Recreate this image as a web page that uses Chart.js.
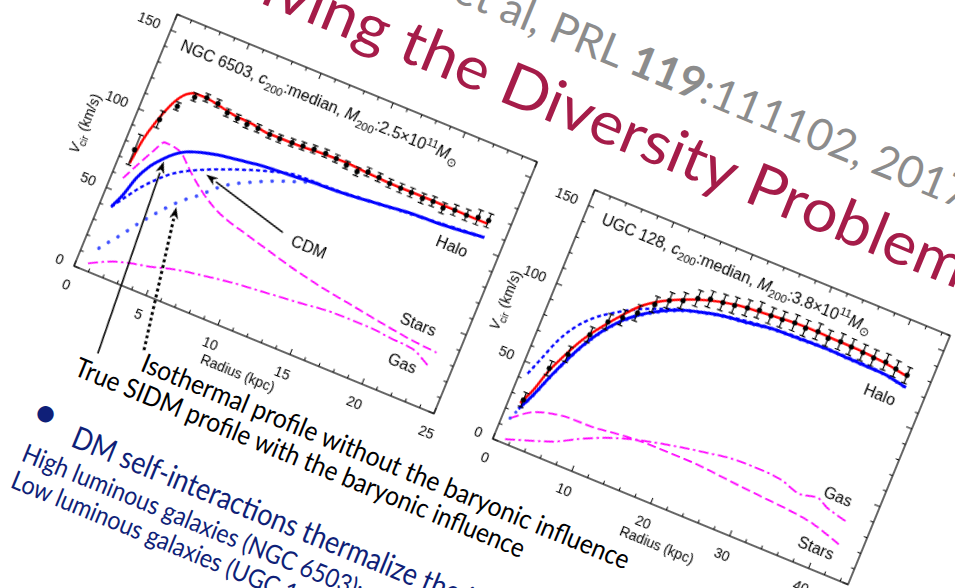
<!DOCTYPE html>
<html>
<head>
<meta charset="utf-8">
<title>SIDM rotation curves</title>
<script src="https://cdn.jsdelivr.net/npm/chart.js@4.4.1/dist/chart.umd.min.js"></script>
<style>
  html, body { margin: 0; padding: 0; background: #fff; }
  body { width: 955px; height: 588px; overflow: hidden; position: relative; }
  /* the whole slide is tilted; local origin (150,450) = NGC 6503 plot origin */
  #slide {
    position: absolute; left: -75.7px; top: -184px;
    width: 1400px; height: 800px;
    transform-origin: 150px 450px;
    transform: rotate(22.3deg);
  }
  #slide svg { position: absolute; left: 0; top: 0; }
  #slide canvas { position: absolute; }
  #c1 { left: 80px; top: 163px; }
  #c2 { left: 533px; top: 167px; }
</style>
</head>
<body>
<div id="slide">
  <svg width="1400" height="800">
    <g transform="translate(150,450)" font-family="Lato, 'Open Sans', sans-serif">
      <text x="81" y="-389" font-size="44" fill="#8c8c8c">Kamada et al, PRL <tspan font-weight="bold">119</tspan>:111102, 2017</text>
      <text x="0" y="-314" font-size="60" fill="#a51c49" textLength="826" lengthAdjust="spacingAndGlyphs">Solving the Diversity Problem</text>
      <text x="100" y="72" font-size="27" fill="#000" textLength="525" lengthAdjust="spacingAndGlyphs">Isothermal profile without the baryonic influence</text>
      <text x="40" y="101" font-size="27" fill="#000" textLength="484" lengthAdjust="spacingAndGlyphs">True SIDM profile with the baryonic influence</text>
      <text x="17" y="161" font-size="44" fill="#0f1f78">•</text>
      <text x="64" y="168" font-size="31" fill="#0f1f78" textLength="540" lengthAdjust="spacingAndGlyphs">DM self-interactions thermalize the inner halo</text>
      <text x="24" y="200" font-size="26" fill="#0f1f78" textLength="473" lengthAdjust="spacingAndGlyphs">High luminous galaxies (NGC 6503): small core</text>
      <text x="24" y="229" font-size="26" fill="#0f1f78" textLength="451" lengthAdjust="spacingAndGlyphs">Low luminous galaxies (UGC 128): large core</text>
    </g>
  </svg>
  <canvas id="c1" width="479" height="372"></canvas>
  <canvas id="c2" width="474" height="369"></canvas>
</div>

<script>
// ---------- NGC 6503 ----------
const ngcRadius = [0.77, 1.52, 2.25, 3.06, 3.80, 4.60, 5.38, 6.12, 6.83, 7.59, 8.43, 9.13, 9.96, 10.69, 11.43, 12.22,
                   12.98, 13.74, 14.53, 15.19, 15.98, 16.76, 17.53, 18.27, 19.07, 19.78, 20.53, 21.28, 22.10, 22.85, 23.55];
const ngcVobs   = [76.8, 98.8, 110.0, 118.8, 121.2, 120.6, 117.6, 116.8, 115.7, 116.0, 115.3, 115.2, 115.8, 116.4, 117.1, 117.5,
                   117.0, 115.8, 114.6, 116.8, 116.3, 115.4, 115.3, 115.3, 114.6, 115.3, 113.9, 115.4, 115.3, 116.7, 117.3];
const ngcVerr   = [9.5, 5.2, 2.4, 2.4, 2.4, 2.4, 2.4, 2.4, 2.4, 2.4, 2.4, 2.4, 2.4, 2.4, 2.4, 2.4,
                   2.4, 2.4, 2.6, 2.6, 2.6, 2.6, 2.8, 2.8, 3.0, 3.0, 3.2, 3.2, 3.4, 4.5, 4.2];

const ngcTotalR = [0.8, 1.02, 1.37, 1.79, 2.3, 3.08, 3.77, 4.76, 5.75, 7.19, 8.19, 9.34, 10.5, 11.85, 13.68, 15.11, 17.46, 19.76, 23.0, 23.6];
const ngcTotalV = [68.4, 84.1, 97.1, 108.3, 116.6, 121.0, 121.1, 119.5, 118.0, 117.0, 115.5, 115.6, 115.7, 116.6, 117.1, 116.2, 115.5, 115.6, 115.3, 115.4];

const ngcHaloR = [0.77, 1.18, 1.56, 2.07, 2.68, 3.35, 3.9, 4.7, 5.75, 6.83, 8.14, 9.48, 10.83, 12.4, 13.77, 15.34, 16.9, 18.66, 20.8, 23.7];
const ngcHaloV = [40.7, 49.7, 61.8, 71.1, 78.1, 84.0, 87.2, 89.9, 92.4, 94.0, 95.8, 97.0, 97.8, 98.9, 99.4, 100.6, 102.1, 103.8, 104.6, 107.0];

const ngcCdmR = [0.77, 1.42, 2.0, 2.79, 3.63, 4.56, 5.52, 7.1, 9.13, 11.2, 13.0, 15.3, 17.5, 20.0, 23.7];
const ngcCdmV = [40.4, 49.5, 57.1, 65.4, 72.4, 77.7, 82.0, 88.0, 94.6, 99.2, 99.5, 100.8, 102.6, 104.4, 107.2];

const ngcIsoR = [1.05, 1.6, 2.1, 2.58, 3.08, 3.53, 4.04, 4.55, 5.08, 5.66, 6.6, 7.27, 8.5, 9.76, 11.18, 12.5, 13.8, 15.3, 17.5, 20.0, 23.7];
const ngcIsoV = [15.3, 22.2, 28.1, 34.8, 40.9, 46.3, 52.0, 57.2, 61.7, 66.0, 74.4, 79.1, 85.2, 90.6, 95.5, 99.3, 99.6, 100.7, 102.5, 104.4, 106.9];

const ngcStarsR = [0.77, 1.39, 1.9, 2.38, 2.96, 3.62, 4.17, 4.89, 5.89, 6.81, 7.93, 8.97, 11.3, 13.1, 15.1, 17.58, 20.05, 22.0, 23.67];
const ngcStarsV = [58.8, 70.7, 80.0, 87.5, 87.2, 85.5, 81.2, 75.4, 68.6, 63.5, 59.3, 56.8, 51.5, 47.5, 43.9, 40.5, 37.1, 34.9, 33.8];

const ngcGasR = [0.77, 2.02, 3.25, 4.52, 6.18, 8.13, 9.87, 12.1, 14.33, 16.55, 18.86, 20.77, 22.2, 23.5];
const ngcGasV = [4.6, 10.4, 14.0, 16.6, 20.8, 23.9, 26.3, 28.3, 30.3, 32.4, 32.6, 31.3, 30.3, 24.6];

// ---------- UGC 128 ----------
const ugcRadius = [1.6, 3.0, 4.4, 5.9, 7.3, 8.7, 10.1, 11.6, 13.0, 14.5, 16.0, 17.4, 18.9, 20.3, 21.8,
                   23.2, 24.7, 26.1, 27.6, 29.0, 30.5, 31.9, 33.4, 34.8, 36.3, 37.7, 39.2, 40.6, 42.1];
const ugcVobs   = [28.4, 51.6, 63.5, 79.2, 90.4, 96.0, 101.9, 110.5, 116.0, 119.0, 123.5, 126.0, 127.0, 128.0, 129.5,
                   131.0, 130.5, 131.0, 132.0, 131.5, 132.5, 131.0, 132.0, 131.5, 131.0, 130.5, 131.0, 129.5, 128.5];
const ugcVerr   = [4.5, 4.5, 4.8, 4.8, 4.8, 4.8, 5.0, 5.0, 5.0, 5.0, 5.0, 5.0, 5.0, 5.0, 5.0,
                   5.0, 5.0, 5.0, 5.0, 5.0, 5.0, 5.0, 5.0, 5.0, 5.0, 5.0, 5.0, 5.0, 5.0];

const ugcTotalR = [1.38, 2.24, 2.95, 4.02, 5.17, 6.46, 8.11, 10.13, 12.08, 14.53, 17.11, 20.18, 23.0, 26.3, 29.2, 32.6, 35.6, 38.6, 42.2];
const ugcTotalV = [25.9, 36.2, 48.4, 61.4, 73.4, 83.6, 94.6, 106.3, 113.5, 119.8, 124.7, 128.4, 130.0, 131.5, 132.2, 131.8, 131.6, 130.5, 127.9];

const ugcHaloR = [1.46, 2.46, 3.47, 4.54, 5.67, 6.95, 8.63, 10.5, 12.5, 14.65, 16.9, 19.6, 22.4, 25.6, 29.0, 32.3, 35.7, 39.1, 42.5];
const ugcHaloV = [22.2, 33.5, 47.3, 60.3, 72.3, 82.9, 93.5, 101.7, 108.1, 113.2, 116.6, 119.7, 121.4, 123.7, 124.3, 124.9, 124.4, 124.1, 121.5];

const ugcCdmR = [0.88, 1.64, 2.64, 3.85, 5.58, 7.52, 9.55, 11.7, 13.5, 16.0, 19.6, 25.6, 32.3, 39.1, 42.5];
const ugcCdmV = [43.7, 54.2, 68.1, 79.2, 89.3, 96.6, 103.0, 107.9, 111.5, 115.5, 119.9, 123.9, 125.1, 124.3, 121.7];

const ugcIsoR = [0.96, 1.46, 2.46, 3.47, 4.54, 5.67, 6.95, 8.63, 10.5, 12.5, 14.65, 16.9, 19.6, 22.4, 25.6, 29.0, 32.3, 35.7, 39.1, 42.5];
const ugcIsoV = [15.3, 21.5, 32.8, 46.5, 59.5, 71.5, 82.2, 92.8, 101.0, 107.5, 112.7, 116.2, 119.3, 121.0, 123.3, 124.0, 124.6, 124.1, 123.8, 121.2];

const ugcStarsR = [0.96, 2.88, 5.88, 7.9, 10.0, 12.8, 15.3, 17.8, 20.3, 22.85, 25.9, 28.95, 32.4, 35.5, 38.6, 42.5];
const ugcStarsV = [15.3, 22.9, 27.8, 28.8, 28.9, 30.5, 31.7, 32.2, 32.2, 32.1, 31.0, 29.8, 28.6, 27.5, 25.4, 19.5];

const ugcGasR = [1.35, 3.76, 7.07, 9.48, 12.3, 15.3, 18.0, 21.1, 23.9, 27.0, 30.4, 33.0, 35.8, 37.8, 39.3, 41.9];
const ugcGasV = [2.6, 6.8, 13.0, 19.7, 26.2, 31.4, 34.8, 38.1, 40.7, 43.1, 43.5, 42.6, 38.9, 40.9, 37.6, 34.4];

// ---------- helpers ----------
const FONT = '"Liberation Sans", Arial, sans-serif';
Chart.defaults.font.family = FONT;
Chart.defaults.color = '#000';

const pts = (xs, ys) => xs.map((x, i) => ({ x, y: ys[i] }));

function curve(label, xs, ys, color, width, dash, order, extra) {
  return Object.assign({
    label, data: pts(xs, ys), showLine: true,
    borderColor: color, backgroundColor: color, borderWidth: width, borderDash: dash,
    pointRadius: 0, cubicInterpolationMode: 'monotone', order
  }, extra || {});
}

function observed(xs, ys) {
  return { label: 'data', data: pts(xs, ys), showLine: false, pointRadius: 2.6,
           pointBackgroundColor: '#000', pointBorderWidth: 0, order: 0 };
}

// text with italic / sub / superscript pieces, left aligned on baseline
function richWidth(ctx, parts, size) {
  let w = 0;
  for (const p of parts) {
    const s = (p.sub || p.sup) ? size * 0.72 : size;
    ctx.font = (p.it ? 'italic ' : '') + s + 'px ' + FONT;
    w += ctx.measureText(p.t).width;
  }
  return w;
}
function drawRich(ctx, parts, x, y, size) {
  let cx = x;
  for (const p of parts) {
    const s = (p.sub || p.sup) ? size * 0.72 : size;
    ctx.font = (p.it ? 'italic ' : '') + s + 'px ' + FONT;
    const dy = p.sub ? size * 0.28 : p.sup ? -size * 0.42 : 0;
    ctx.fillText(p.t, cx, y + dy);
    cx += ctx.measureText(p.t).width;
  }
}

function arrow(ctx, x0, y0, x1, y1, dotted) {
  const ang = Math.atan2(y1 - y0, x1 - x0);
  const len = 12, half = 4.5;
  const bx = x1 - len * Math.cos(ang), by = y1 - len * Math.sin(ang);
  ctx.save();
  ctx.strokeStyle = '#000'; ctx.fillStyle = '#000';
  ctx.lineWidth = dotted ? 3 : 1.6;
  ctx.setLineDash(dotted ? [3, 3] : []);
  ctx.beginPath(); ctx.moveTo(x0, y0); ctx.lineTo(bx, by); ctx.stroke();
  ctx.setLineDash([]);
  ctx.beginPath();
  ctx.moveTo(x1, y1);
  ctx.lineTo(bx + half * Math.sin(ang), by - half * Math.cos(ang));
  ctx.lineTo(x1 - 0.7 * len * Math.cos(ang), y1 - 0.7 * len * Math.sin(ang));
  ctx.lineTo(bx - half * Math.sin(ang), by + half * Math.cos(ang));
  ctx.closePath(); ctx.fill();
  ctx.restore();
}

const vTitle = [{ t: 'V', it: true }, { t: 'cir', sub: true }, { t: ' (km/s)' }];

// frame with inward ticks on all sides, error bars, labels, arrows
function decor(spec) {
  return {
    id: 'decor',
    afterDatasetsDraw(chart) {
      const { ctx, chartArea: a, scales: { x, y } } = chart;
      ctx.save();

      ctx.strokeStyle = '#000';
      ctx.lineWidth = 1.2;
      ctx.beginPath();
      spec.obsR.forEach((r, i) => {
        const px = x.getPixelForValue(r);
        const lo = y.getPixelForValue(spec.obsV[i] - spec.obsE[i]);
        const hi = y.getPixelForValue(spec.obsV[i] + spec.obsE[i]);
        ctx.moveTo(px, lo); ctx.lineTo(px, hi);
        ctx.moveTo(px - 3, lo); ctx.lineTo(px + 3, lo);
        ctx.moveTo(px - 3, hi); ctx.lineTo(px + 3, hi);
      });
      ctx.stroke();

      ctx.lineWidth = 1.2;
      ctx.strokeRect(a.left, a.top, a.right - a.left, a.bottom - a.top);
      ctx.lineWidth = 1;
      ctx.beginPath();
      for (let v = 0; v <= spec.xMax + 1e-6; v += spec.xMinor) {
        const px = x.getPixelForValue(v);
        const l = Math.abs(v / spec.xStep - Math.round(v / spec.xStep)) < 1e-6 ? 6 : 3.5;
        ctx.moveTo(px, a.bottom); ctx.lineTo(px, a.bottom - l);
        ctx.moveTo(px, a.top); ctx.lineTo(px, a.top + l);
      }
      for (let v = 0; v <= 160 + 1e-6; v += 10) {
        const py = y.getPixelForValue(v);
        const l = v % 50 === 0 ? 6 : 3.5;
        ctx.moveTo(a.left, py); ctx.lineTo(a.left + l, py);
        ctx.moveTo(a.right, py); ctx.lineTo(a.right - l, py);
      }
      ctx.stroke();

      ctx.fillStyle = '#000';
      ctx.textAlign = 'center';
      ctx.textBaseline = 'middle';
      ctx.font = '16px ' + FONT;
      spec.notes.forEach(n => ctx.fillText(n.text, x.getPixelForValue(n.x), y.getPixelForValue(n.y)));

      ctx.textAlign = 'left';
      ctx.textBaseline = 'alphabetic';
      drawRich(ctx, spec.heading, x.getPixelForValue(spec.headAt[0]), y.getPixelForValue(spec.headAt[1]), 16);

      // axis titles
      const xt = [{ t: 'Radius ' }, { t: '(kpc)' }];
      drawRich(ctx, xt, a.left + spec.xTitle[0] - richWidth(ctx, xt, 14) / 2, a.bottom + spec.xTitle[1] + 5, 14);
      ctx.save();
      ctx.translate(a.left - spec.yTitle[0], a.bottom - spec.yTitle[1]);
      ctx.rotate(-Math.PI / 2);
      drawRich(ctx, vTitle, -richWidth(ctx, vTitle, 14) / 2, 5, 14);
      ctx.restore();

      (spec.arrows || []).forEach(ar => arrow(ctx,
        x.getPixelForValue(ar.from[0]), y.getPixelForValue(ar.from[1]),
        x.getPixelForValue(ar.to[0]), y.getPixelForValue(ar.to[1]), ar.dotted));

      ctx.restore();
    }
  };
}

function makeChart(id, spec, datasets) {
  return new Chart(document.getElementById(id), {
    type: 'scatter',
    data: { datasets },
    options: {
      responsive: false,
      maintainAspectRatio: false,
      animation: false,
      events: [],
      layout: { padding: { left: 30, top: 15, right: 20, bottom: 50 } },
      plugins: { legend: { display: false }, tooltip: { enabled: false } },
      scales: {
        x: {
          type: 'linear', min: 0, max: spec.xMax,
          afterFit: s => { s.height = 35; },
          grid: { display: false }, border: { display: false },
          ticks: { stepSize: spec.xStep, includeBounds: false, padding: 5, maxRotation: 0,
                   autoSkip: false, color: '#000', font: { size: 14 } }
        },
        y: {
          type: 'linear', min: 0, max: 160,
          afterFit: s => { s.width = 40; },
          grid: { display: false }, border: { display: false },
          ticks: { stepSize: 50, includeBounds: false, padding: 4, color: '#000', font: { size: 14 } }
        }
      }
    },
    plugins: [decor(spec)]
  });
}

const BLUE = '#0000ff', DOTS = '#3c4dff', RED = '#ff0000', MAG = '#ff00ff';

makeChart('c1', {
  xMax: 25, xStep: 5, xMinor: 1,
  obsR: ngcRadius, obsV: ngcVobs, obsE: ngcVerr,
  heading: [{ t: 'NGC 6503, ' }, { t: 'c', it: true }, { t: '200', sub: true }, { t: ':median, ' },
            { t: 'M', it: true }, { t: '200', sub: true }, { t: ':2.5×10' }, { t: '11', sup: true },
            { t: 'M', it: true }, { t: '⊙', sub: true }],
  headAt: [1.0, 141],
  notes: [{ text: 'Halo', x: 22.0, y: 94.4 }, { text: 'CDM', x: 13.5, y: 62.2 },
          { text: 'Stars', x: 21.9, y: 44.2 }, { text: 'Gas', x: 21.9, y: 19.6 }],
  xTitle: [192, 37], yTitle: [44, 136],
  arrows: [{ from: [3.55, -42.3], to: [2.79, 76.9] },
           { from: [6.21, -30.1], to: [4.65, 54.9], dotted: true },
           { from: [11.6, 64.8], to: [5.64, 79.3] }]
}, [
  observed(ngcRadius, ngcVobs),
  curve('total', ngcTotalR, ngcTotalV, RED, 2.5, [], 1),
  curve('SIDM halo', ngcHaloR, ngcHaloV, BLUE, 3, [], 2),
  curve('CDM', ngcCdmR, ngcCdmV, BLUE, 2.4, [4, 3], 3),
  curve('isothermal', ngcIsoR, ngcIsoV, DOTS, 3.6, [0.1, 11], 4, { borderCapStyle: 'round' }),
  curve('stars', ngcStarsR, ngcStarsV, MAG, 1.8, [9, 4], 5),
  curve('gas', ngcGasR, ngcGasV, MAG, 1.8, [10, 3.5, 2.5, 3.5], 6)
]);

makeChart('c2', {
  xMax: 45, xStep: 10, xMinor: 2,
  obsR: ugcRadius, obsV: ugcVobs, obsE: ugcVerr,
  heading: [{ t: 'UGC 128, ' }, { t: 'c', it: true }, { t: '200', sub: true }, { t: ':median, ' },
            { t: 'M', it: true }, { t: '200', sub: true }, { t: ':3.8×10' }, { t: '11', sup: true },
            { t: 'M', it: true }, { t: '⊙', sub: true }],
  headAt: [2.1, 143],
  notes: [{ text: 'Halo', x: 40, y: 110.8 }, { text: 'Gas', x: 40, y: 45.4 }, { text: 'Stars', x: 39.9, y: 12 }],
  xTitle: [192, 36], yTitle: [41, 133]
}, [
  observed(ugcRadius, ugcVobs),
  curve('total', ugcTotalR, ugcTotalV, RED, 2.5, [], 1),
  curve('SIDM halo', ugcHaloR, ugcHaloV, BLUE, 3, [], 2),
  curve('CDM', ugcCdmR, ugcCdmV, BLUE, 2.4, [4, 3], 3),
  curve('isothermal', ugcIsoR, ugcIsoV, DOTS, 3.2, [0.1, 8], 4, { borderCapStyle: 'round' }),
  curve('stars', ugcStarsR, ugcStarsV, MAG, 1.8, [9, 4], 5),
  curve('gas', ugcGasR, ugcGasV, MAG, 1.8, [10, 3.5, 2.5, 3.5], 6)
]);
</script>
</body>
</html>
